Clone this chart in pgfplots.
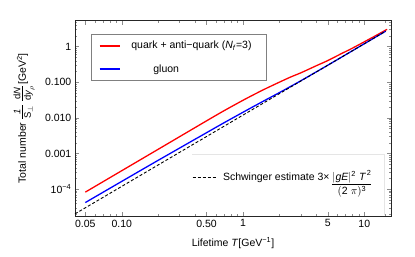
\documentclass[border=0pt]{standalone}
\usepackage{amsmath}
\usepackage{fontspec}
\setmainfont{Liberation Sans}
\usepackage{pgfplots}
\pgfplotsset{compat=1.18}

\pgfplotstableread{
T y
0.05 8.32e-5
0.1 3.33e-4
0.2 1.331e-3
0.5 8.32e-3
0.7 0.01613
1.0 0.03146
1.2 0.04356
1.5 0.06398
2.0 0.1016
2.5 0.1437
3.0 0.1851
4.0 0.2904
5.0 0.4084
6.5 0.6441
8.0 0.9138
12.0 1.9166
15.4 3.070
}\redtab

\pgfplotstableread{
T y
0.05 4.24e-5
0.1 1.67e-4
0.2 6.53e-4
0.5 3.87e-3
0.7 7.41e-3
1.0 0.01452
1.2 0.02039
1.5 0.03076
2.0 0.05179
2.5 0.07865
3.0 0.1111
5.0 0.3025
10.0 1.21
15.0 2.7225
}\bluetab

\pgfplotstableread{
T y
0.0411 2.044e-5
15.0 2.7225
}\schwtab

\begin{document}
\fontsize{10.5}{12.5}\selectfont
\begin{tikzpicture}
\path[use as bounding box] (0,0) rectangle (415pt,257pt);
\begin{axis}[
  at={(75pt,41pt)}, anchor=south west,
  scale only axis, width=316pt, height=195.3pt,
  xmode=log, ymode=log,
  xmin=0.0411, xmax=16.6, ymin=1.78e-5, ymax=5.36,
  axis line style={black!85, line width=0.9pt},
  tick style={black!45, line width=0.5pt},
  major tick length=4pt, minor tick length=2.5pt,
  tick align=inside,
  xtick={0.05,0.1,0.5,1,5,10},
  xticklabels={0.05,0.10,0.50,1,5,10},
  minor xtick={0.06,0.07,0.08,0.09,0.2,0.3,0.4,0.6,0.7,0.8,0.9,2,3,4,6,7,8,9,15},
  ytick={1e-4,1e-3,1e-2,1e-1,1},
  yticklabels={10\textsuperscript{−4},0.001,0.010,0.100,1},
  minor ytick={2e-5,3e-5,4e-5,5e-5,6e-5,7e-5,8e-5,9e-5,2e-4,3e-4,4e-4,5e-4,6e-4,7e-4,8e-4,9e-4,2e-3,3e-3,4e-3,5e-3,6e-3,7e-3,8e-3,9e-3,0.02,0.03,0.04,0.05,0.06,0.07,0.08,0.09,0.2,0.3,0.4,0.5,0.6,0.7,0.8,0.9,2,3,4,5},
  tick label style={font=\fontsize{10.5}{12.5}\selectfont},
  xlabel={Lifetime \textit{T}[GeV\textsuperscript{−1}]},
  xlabel style={at={(axis description cs:0.5,-0.14)}, anchor=center},
  ylabel={Total number {\fontsize{13.5}{14}\selectfont$\frac{\textit{1}}{\text{S}_{\perp}}\,\frac{\text{d}\textit{N}}{\text{d}\textit{y}_{\rho}}$}[GeV\textsuperscript{2}]},
  ylabel style={at={(axis description cs:-0.161,0.5)}, anchor=center},
  legend style={at={(axis description cs:0.0497,0.932)}, anchor=north west,
    draw=black!50, line width=0.7pt, fill=white,
    inner xsep=8pt, inner ysep=5pt, row sep=10pt, column sep=9pt,
    font=\fontsize{10.5}{12.5}\selectfont},
  legend cell align=left,
  legend image code/.code={\draw[#1, line width=1.3pt] (0pt,0pt) -- (20pt,0pt);},
]
\draw[black!10, line width=0.6pt] (axis description cs:0.370,0.317) -- (axis description cs:0.978,0.317) -- (axis description cs:0.978,0.005);
\addplot[red, line width=1.3pt, smooth] table[x=T,y=y]{\redtab};
\addlegendentry{quark + anti−quark (\textit{N}\textsubscript{\textit{f}}=3)\hspace*{5pt}}
\addplot[blue, line width=1.3pt, smooth] table[x=T,y=y]{\bluetab};
\addlegendentry{\hspace*{22pt}gluon}
\end{axis}
\begin{axis}[
  at={(75pt,41pt)}, anchor=south west,
  scale only axis, width=316pt, height=195.3pt,
  xmode=log, ymode=log,
  xmin=0.0411, xmax=16.6, ymin=1.78e-5, ymax=5.36,
  hide axis,
  legend style={at={(axis description cs:0.370,0.195)}, anchor=west,
    draw=none, fill=none, inner xsep=0pt, inner ysep=0pt, column sep=5pt,
    font=\fontsize{10.5}{12.5}\selectfont},
  legend image code/.code={\draw[#1] (0pt,0pt) -- (23pt,0pt);},
]
\addplot[black, line width=0.9pt, dash pattern=on 3pt off 2pt] table[x=T,y=y]{\schwtab};
\addlegendentry{Schwinger estimate 3\texttimes\,\raisebox{-6.5pt}[0pt][0pt]{$\dfrac{|\textit{gE}|^{\text{2}}\;\textit{T}^{\,\text{2}}}{(\text{2}\;\pi)^{\text{3}}}$}}
\end{axis}
\end{tikzpicture}
\end{document}
